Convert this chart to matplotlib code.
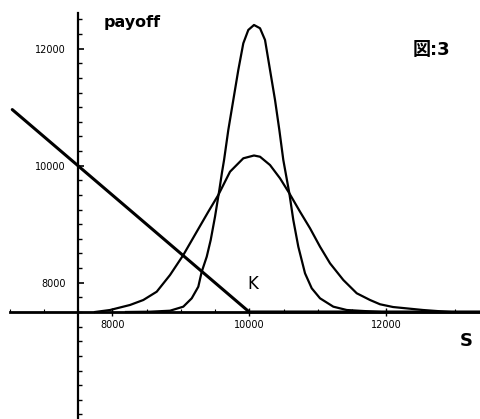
import matplotlib
matplotlib.use('Agg')
import matplotlib.pyplot as plt
from matplotlib.ticker import FixedLocator, MultipleLocator

# payoff line (K - S, drawn shifted so the axes cross at 7500)
payoff_s = [6540, 10000, 13400]
payoff_v = [10960, 7500, 7500]

# narrow density curve
tall_s = [8200, 8551, 8843, 9037, 9160, 9256, 9306, 9379, 9437, 9500, 9563, 9602, 9632,
          9694, 9767, 9840, 9913, 9986, 10069, 10157, 10230, 10303, 10376, 10439, 10497,
          10585, 10643, 10716, 10814, 10912, 11033, 11227, 11423, 11909]
tall_v = [7500, 7505, 7522, 7591, 7734, 7932, 8189, 8445, 8731, 9129, 9585, 9887, 10098,
          10611, 11124, 11637, 12093, 12321, 12406, 12350, 12150, 11637, 11124, 10611, 10098,
          9529, 9072, 8616, 8161, 7905, 7734, 7591, 7534, 7500]

# wide density curve
wide_s = [7748, 7967, 8259, 8453, 8649, 8843, 9037, 9233, 9402, 9548, 9719, 9913,
          10069, 10157, 10303, 10449, 10585, 10741, 10887, 11033, 11179, 11373,
          11569, 11763, 11909, 12099, 12537, 12931]
wide_v = [7500, 7534, 7620, 7705, 7847, 8132, 8474, 8872, 9214, 9500, 9898, 10127,
          10175, 10154, 10012, 9785, 9529, 9214, 8931, 8616, 8332, 8047,
          7820, 7705, 7632, 7585, 7534, 7500]

x_ticks = [8000, 10000, 12000]
x_labels = ['8000', '10000', '12000']
y_ticks = [8000, 10000, 12000]
y_labels = ['8000', '10000', '12000']
y_minor = [5750 + 250 * i for i in range(28)]

fig = plt.figure(figsize=(4.81, 4.19), dpi=100)
ax = fig.add_axes([0, 0, 1, 1])
ax.set_xlim(6361, 13383)
ax.set_ylim(5671, 12833)

ax.plot(payoff_s, payoff_v, color='black', lw=2.2, solid_capstyle='round')
ax.plot(tall_s, tall_v, color='black', lw=1.6, solid_joinstyle='round')
ax.plot(wide_s, wide_v, color='black', lw=1.6, solid_joinstyle='round')

# axes crossing at (7500, 7500)
for side in ['top', 'right']:
    ax.spines[side].set_visible(False)
ax.spines['left'].set_position(('data', 7500))
ax.spines['bottom'].set_position(('data', 7500))
ax.spines['left'].set_bounds(5600, 12610)
ax.spines['bottom'].set_bounds(6507, 13400)
ax.spines['left'].set_linewidth(1.6)
ax.spines['bottom'].set_linewidth(2.0)

ax.xaxis.set_major_locator(FixedLocator(x_ticks))
ax.set_xticklabels(x_labels)
ax.xaxis.set_minor_locator(MultipleLocator(500))
ax.yaxis.set_major_locator(FixedLocator(y_ticks))
ax.set_yticklabels(y_labels)
ax.yaxis.set_minor_locator(FixedLocator(y_minor))

ax.tick_params(axis='x', which='major', direction='inout', length=6, width=1, pad=3, labelsize=7)
ax.tick_params(axis='x', which='minor', direction='in', length=2, width=0.8)
ax.tick_params(axis='y', which='major', direction='in', length=4, width=1.2, pad=9, labelsize=7)
ax.tick_params(axis='y', which='minor', direction='in', length=3, width=1)

fig.text(132 / 481, 1 - 22 / 419, 'payoff', fontsize=11.5, fontweight='bold', ha='center', va='center')
fig.text(431 / 481, 1 - 50 / 419, '図:3', fontsize=13, fontweight='bold', ha='center', va='center',
         family=['DejaVu Sans', 'Noto Sans CJK JP'])
fig.text(253 / 481, 1 - 284 / 419, 'K', fontsize=12, ha='center', va='center')
fig.text(466 / 481, 1 - 341 / 419, 'S', fontsize=13, fontweight='bold', ha='center', va='center')

fig.savefig('out.png', dpi=100)
